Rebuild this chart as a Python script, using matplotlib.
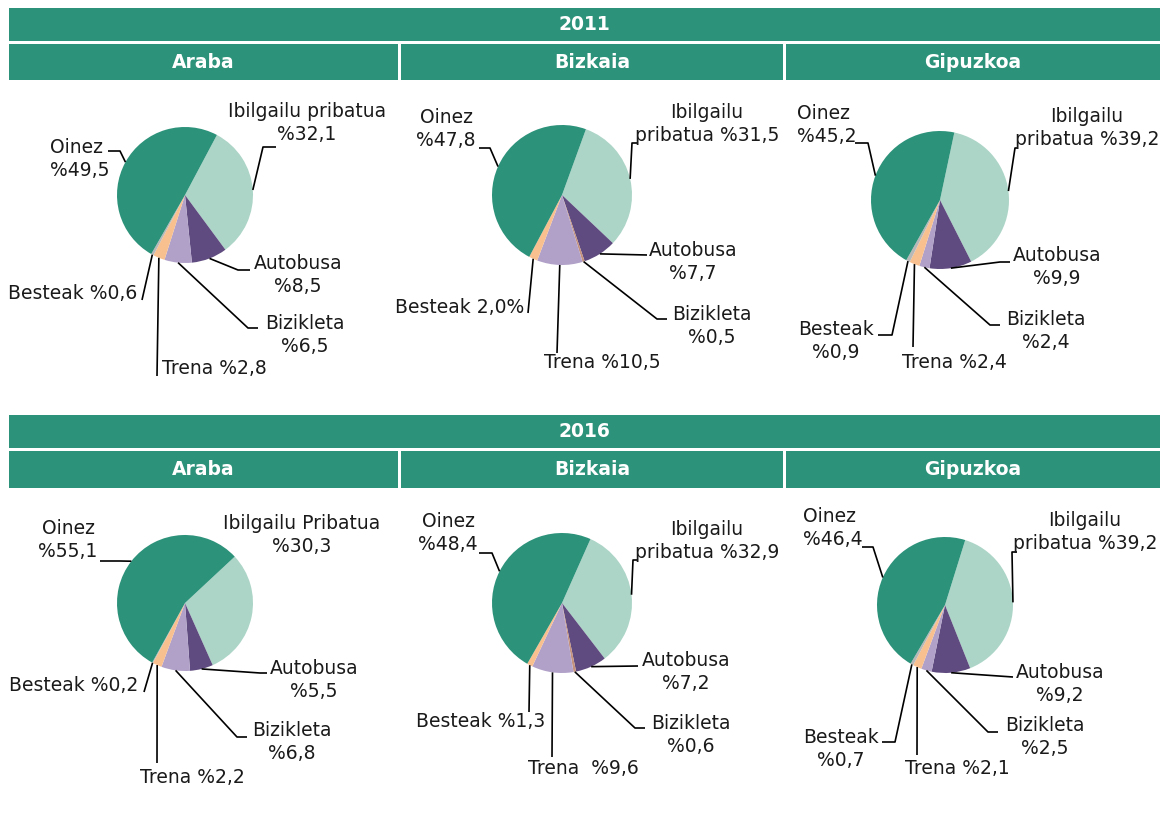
import numpy as np
import matplotlib.pyplot as plt
from matplotlib.patches import Rectangle

plt.rcParams['font.family'] = 'DejaVu Sans'

# Data: modal shares (%) per territory and year
years = ["2011", "2016"]
regions = ["Araba", "Bizkaia", "Gipuzkoa"]
modes = ["Ibilgailu pribatua", "Autobusa", "Bizikleta", "Trena", "Besteak", "Oinez"]

araba_2011 = [32.1, 8.5, 6.5, 2.8, 0.6, 49.5]
bizkaia_2011 = [31.5, 7.7, 0.5, 10.5, 2.0, 47.8]
gipuzkoa_2011 = [39.2, 9.9, 2.4, 2.4, 0.9, 45.2]
araba_2016 = [30.3, 5.5, 6.8, 2.2, 0.2, 55.1]
bizkaia_2016 = [32.9, 7.2, 0.6, 9.6, 1.3, 48.4]
gipuzkoa_2016 = [39.2, 9.2, 2.5, 2.1, 0.7, 46.4]

# label texts ({} gets the value)
labels_araba_2011 = ["Ibilgailu pribatua\n%{}", "Autobusa\n%{}", "Bizikleta\n%{}",
                     "Trena %{}", "Besteak %{}", "Oinez\n%{}"]
labels_bizkaia_2011 = ["Ibilgailu\npribatua %{}", "Autobusa\n%{}", "Bizikleta\n%{}",
                       "Trena %{}", "Besteak {}%", "Oinez\n%{}"]
labels_gipuzkoa_2011 = ["Ibilgailu\npribatua %{}", "Autobusa\n%{}", "Bizikleta\n%{}",
                        "Trena %{}", "Besteak\n%{}", "Oinez\n%{}"]
labels_araba_2016 = ["Ibilgailu Pribatua\n%{}", "Autobusa\n%{}", "Bizikleta\n%{}",
                     "Trena %{}", "Besteak %{}", "Oinez\n%{}"]
labels_bizkaia_2016 = ["Ibilgailu\npribatua %{}", "Autobusa\n%{}", "Bizikleta\n%{}",
                       "Trena  %{}", "Besteak %{}", "Oinez\n%{}"]
labels_gipuzkoa_2016 = ["Ibilgailu\npribatua %{}", "Autobusa\n%{}", "Bizikleta\n%{}",
                        "Trena %{}", "Besteak\n%{}", "Oinez\n%{}"]

# colours
teal = "#2d927a"
light_green = "#acd5c7"
dark_purple = "#5f4b7f"
light_purple = "#b1a1c9"
peach = "#f9c08f"
grey = "#b8b8b8"
sliver = "#c4917c"
cols_std = [light_green, dark_purple, light_purple, peach, grey, teal]
cols_bizkaia = [light_green, dark_purple, sliver, light_purple, peach, teal]


def fmt(v):
    return f"{v:.1f}".replace(".", ",")


# layout per chart: centre (px), radius, start angle (visual deg), colours,
# and for each label: (x, y, ha, leader elbow points)
charts = [
    (araba_2011, labels_araba_2011, (185, 195), 68, 62, cols_std, [
        (307, 123, "center", [(263, 147), (276, 147)]),
        (298, 275, "center", [(238, 270), (250, 270)]),
        (305, 335, "center", [(248, 328), (258, 328)]),
        (162, 368, "left", [(157, 376)]),
        (137, 293, "right", [(142, 300)]),
        (50, 159, "left", [(120, 151), (108, 151)]),
    ]),
    (bizkaia_2011, labels_bizkaia_2011, (562, 195), 70, 70, cols_bizkaia, [
        (707, 124, "center", [(632, 143), (637, 143)]),
        (693, 262, "center", [(647, 255)]),
        (712, 326, "center", [(657, 319), (667, 319)]),
        (602, 362, "center", [(557, 353)]),
        (524, 307, "right", [(528, 313)]),
        (446, 129, "center", [(490, 148), (479, 148)]),
    ]),
    (gipuzkoa_2011, labels_gipuzkoa_2011, (940, 200), 69, 78, cols_std, [
        (1087, 128, "center", [(1015, 148), (1018, 148)]),
        (1057, 267, "center", [(1000, 262), (1010, 262)]),
        (1046, 331, "center", [(990, 325), (1000, 325)]),
        (954, 362, "center", [(913, 347)]),
        (836, 341, "center", [(892, 335), (878, 335)]),
        (797, 125, "left", [(868, 143), (855, 143)]),
    ]),
    (araba_2016, labels_araba_2016, (185, 603), 68, 43, cols_std, [
        (302, 535, "center", []),
        (314, 680, "center", [(260, 673), (267, 673)]),
        (292, 742, "center", [(237, 737), (247, 737)]),
        (192, 777, "center", [(157, 763)]),
        (138, 685, "right", [(144, 692)]),
        (68, 540, "center", [(120, 561), (100, 561)]),
    ]),
    (bizkaia_2016, labels_bizkaia_2016, (562, 603), 70, 66, cols_bizkaia, [
        (707, 541, "center", [(633, 560), (637, 560)]),
        (686, 672, "center", [(638, 666)]),
        (691, 735, "center", [(635, 728), (645, 728)]),
        (583, 768, "center", [(552, 757)]),
        (545, 721, "right", [(529, 712)]),
        (448, 533, "center", [(492, 553), (479, 553)]),
    ]),
    (gipuzkoa_2016, labels_gipuzkoa_2016, (945, 605), 68, 72.7, cols_std, [
        (1085, 532, "center", [(1012, 552), (1017, 552)]),
        (1060, 684, "center", [(1013, 677)]),
        (1045, 737, "center", [(988, 732), (998, 732)]),
        (957, 768, "center", [(917, 755)]),
        (841, 749, "center", [(895, 742), (882, 742)]),
        (803, 528, "left", [(873, 547), (862, 547)]),
    ]),
]

W, H = 1161, 813
fig = plt.figure(figsize=(W / 100, H / 100), dpi=100)
ax = fig.add_axes([0, 0, 1, 1])

# header bars
header_rows = [(8, 33, 44, 36), (415, 33, 451, 37)]
col_spans = [(9, 389), (401, 382), (786, 374)]
for year, (y0, h0, y1, h1) in zip(years, header_rows):
    ax.add_patch(Rectangle((9, y0), 1151, h0, color=teal, lw=0))
    ax.text(584.5, y0 + h0 / 2, year, ha="center", va="center",
            color="white", fontsize=13.5, fontweight="bold")
    for reg, (x0, w) in zip(regions, col_spans):
        ax.add_patch(Rectangle((x0, y1), w, h1, color=teal, lw=0))
        ax.text(x0 + w / 2, y1 + h1 / 2, reg, ha="center", va="center",
                color="white", fontsize=13.5, fontweight="bold")

# pies (y axis points down, so counterclock in data = clockwise on screen)
for values, labels, (cx, cy), r, start, cols, specs in charts:
    wedges, _ = ax.pie(values, colors=cols, startangle=-start, counterclock=True,
                       center=(cx, cy), radius=r, wedgeprops=dict(linewidth=0))
    for w, tmpl, v, (tx, ty, ha, path) in zip(wedges, labels, values, specs):
        ax.text(tx, ty, tmpl.format(fmt(v)), ha=ha, va="center",
                multialignment="center" if ha == "center" else ha,
                fontsize=13.5, color="#1a1a1a", linespacing=1.22)
        if path:
            mid = np.deg2rad((w.theta1 + w.theta2) / 2)
            p0 = (cx + r * np.cos(mid), cy + r * np.sin(mid))
            xs, ys = zip(p0, *path)
            ax.plot(xs, ys, color="black", lw=1.2, solid_capstyle="butt")

ax.set_xlim(0, W)
ax.set_ylim(H, 0)
ax.set_aspect("auto")
ax.axis("off")

fig.savefig("out.png", dpi=100)
